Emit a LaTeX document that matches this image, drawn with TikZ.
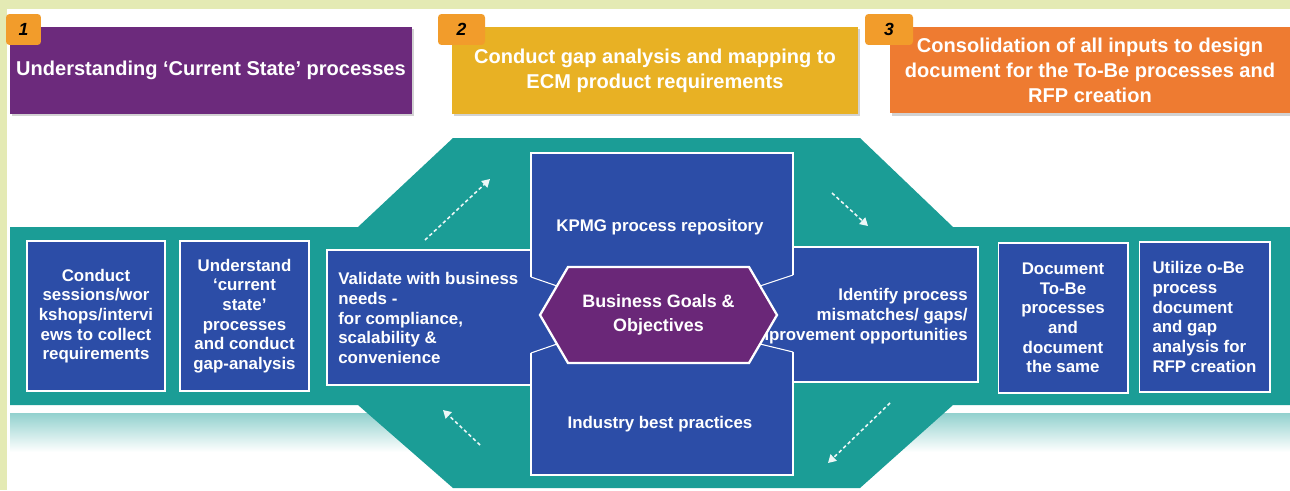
\documentclass[tikz,border=0pt]{standalone}
\usepackage{fontspec}
\setmainfont{Liberation Sans}
\usepackage{tikz}
\usetikzlibrary{arrows.meta}
\usetikzlibrary{shadows}

\definecolor{paper}{HTML}{E4EAB4}
\definecolor{tealband}{HTML}{1B9D96}
\definecolor{reflect}{HTML}{92D1CE}
\definecolor{boxblue}{HTML}{2C4DA7}
\definecolor{hexpurple}{HTML}{6A2778}
\definecolor{headpurple}{HTML}{6C2A7C}
\definecolor{headgold}{HTML}{E8B124}
\definecolor{headorange}{HTML}{EE7B31}
\definecolor{taborange}{HTML}{F29C2B}

\newcommand{\boxfont}{\fontsize{9.6}{11.2}\selectfont\bfseries}
\newcommand{\headfont}{\fontsize{11.4}{14.2}\selectfont\bfseries}
\newcommand{\numtab}[4]{\node[numtab, minimum width=#3] (#4) at ( #1 , #2 ) {\textit{#4}};}

\tikzset{
  headbox/.style={text=white, align=center, inner sep=0pt, minimum height=1.74cm, font=\headfont,
    drop shadow={shadow xshift=1.2pt, shadow yshift=-1.2pt, opacity=0.35}},
  numtab/.style={fill=taborange, rounded corners=2pt, minimum height=0.62cm, inner sep=0pt,
    font=\fontsize{10}{12}\selectfont\bfseries},
  stagebox/.style={fill=boxblue, draw=white, line width=0.6pt, inner sep=0pt, minimum height=3cm,
    text=white, font=\boxfont,
    drop shadow={shadow xshift=0.8pt, shadow yshift=-0.8pt, opacity=0.3}},
  boxtext/.style={text=white, font=\boxfont, inner sep=0pt},
  edge/.style={draw=white, line width=0.6pt},
  goalhex/.style={fill=hexpurple, draw=white, line width=1.3pt},
  flowarrow/.style={draw=white!92!tealband, line width=0.9pt, dash pattern=on 2pt off 1.5pt,
    -{Triangle[width=5pt,length=4.5pt]}}
}

\begin{document}
\begin{tikzpicture}[x=0.02cm, y=-0.02cm]
        \useasboundingbox (0,0) rectangle (1290,490);
        % paper
        \fill[paper] (0,0) rectangle (1290,490);
        \fill[white] (7,9) rectangle (1290,490);
        % reflection under the band
        \shade[top color=reflect, bottom color=white] (10,413) rectangle (420,452);
        \shade[top color=reflect, bottom color=white] (880,413) rectangle (1290,452);
        % teal band
        \fill[tealband] (10,227) -- (358,227) -- (453,138) -- (860,138) -- (953,227) -- (1290,227)
          -- (1290,405) -- (953,405) -- (860,488) -- (453,488) -- (358,405) -- (10,405) -- cycle;

        % header 1
        \node[headbox, fill=headpurple, minimum width=8.04cm] (head1) at (211,70.5)
          {Understanding `Current State' processes};
        \numtab{23.5}{29.5}{0.7cm}{1}
        % header 2
        \node[headbox, fill=headgold, minimum width=8.12cm] (head2) at (655,70.5)
          {Conduct gap analysis and mapping to\\ECM product requirements};
        \numtab{461.5}{29.5}{0.94cm}{2}
        % header 3
        \node[headbox, fill=headorange, minimum width=8cm] (head3) at (1090,70)
          {Consolidation of all inputs to design\\document for the To-Be processes and\\RFP creation};
        \numtab{889}{29.5}{0.96cm}{3}

        % cross in the middle
        \fill[boxblue] (327,250) -- (531,250) -- (531,153) -- (793,153) -- (793,247) -- (978,247)
          -- (978,382) -- (793,382) -- (793,475) -- (531,475) -- (531,385) -- (327,385) -- cycle;
        \draw[edge] (531,277) -- (531,153) -- (793,153) -- (793,275);
        \draw[edge] (531,250) -- (327,250) -- (327,385) -- (531,385);
        \draw[edge] (531,353) -- (531,475) -- (793,475) -- (793,352);
        \draw[edge] (793,247) -- (978,247) -- (978,382) -- (793,382);

        % left boxes
        \node[stagebox, minimum width=2.76cm, align=center] (sessions) at (96,316)
          {Conduct\\sessions/wor\\kshops/intervi\\ews to collect\\requirements};
        \node[stagebox, minimum width=2.58cm, align=center] (current) at (244.5,316)
          {Understand\\`current\\state'\\processes\\and conduct\\gap-analysis};
        % right boxes
        \node[stagebox, minimum width=2.6cm, align=center] (tobe) at (1063,318)
          {Document\\To-Be\\processes\\and\\document\\the same};
        \node[stagebox, minimum width=2.62cm, align=left] (rfp) at (1204.5,317)
          {Utilize o-Be\\process\\document\\and gap\\analysis for\\RFP creation};

        % texts of the cross
        \node[boxtext] (kpmg) at (660,227) {KPMG process repository};
        \node[boxtext] (industry) at (660,424) {Industry best practices};
        \node[boxtext, anchor=west, align=left] (validate) at (338,318)
          {Validate with business\\needs -\\for compliance,\\scalability \&\\convenience};
        \node[boxtext, anchor=east, align=right] (identify) at (968,316)
          {Identify process\\mismatches/ gaps/\\improvement opportunities};

        % corners to the hexagon
        \draw[edge] (531,277) -- (557,286);
        \draw[edge] (531,353) -- (557,344);
        \draw[edge] (793,275) -- (760,286);
        \draw[edge] (793,352) -- (760,344);
        % hexagon
        \draw[goalhex] (540,315) -- (568,267) -- (749,267) -- (777,315) -- (749,363) -- (568,363) -- cycle;
        \node[text=white, align=center, inner sep=0pt, font=\fontsize{10.2}{13.6}\selectfont\bfseries]
          (goals) at (658.5,315) {Business Goals \&\\Objectives};

        % arrows round the cycle
        \coordinate (upfrom) at (425,240);
        \coordinate (upto) at (490,179);
        \coordinate (rightfrom) at (832,193);
        \coordinate (rightto) at (868,226);
        \coordinate (downfrom) at (890,403);
        \coordinate (downto) at (828,463);
        \coordinate (backfrom) at (480,445);
        \coordinate (backto) at (443,410);
        \draw[flowarrow] (upfrom) -- (upto);
        \draw[flowarrow] (rightfrom) -- (rightto);
        \draw[flowarrow] (downfrom) -- (downto);
        \draw[flowarrow] (backfrom) -- (backto);
    \end{tikzpicture}
\end{document}
